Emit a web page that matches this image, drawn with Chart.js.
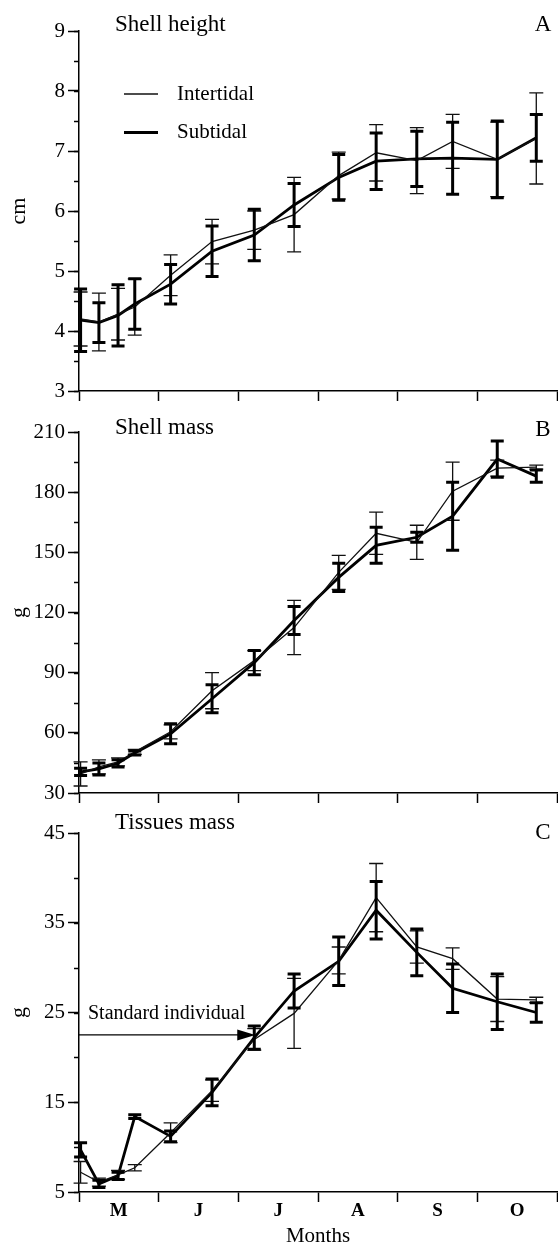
<!DOCTYPE html>
<html>
<head>
<meta charset="utf-8">
<title>Shell height, shell mass and tissues mass</title>
<script src="https://cdn.jsdelivr.net/npm/chart.js@4.4.1/dist/chart.umd.min.js"></script>
<style>
  html, body { margin: 0; padding: 0; background: #fff; }
  #wrap { position: relative; width: 558px; height: 1249px; overflow: hidden; }
  #wrap canvas { position: absolute; left: 0; }
</style>
</head>
<body>
<div id="wrap">
  <canvas id="chartA" width="558" height="412" style="top:0px"></canvas>
  <canvas id="chartB" width="558" height="402" style="top:412px"></canvas>
  <canvas id="chartC" width="558" height="435" style="top:814px"></canvas>
</div>
<script>
// sampling dates, counted in months from the start of May
const sampleMonths = [0.02, 0.25, 0.49, 0.70, 1.15, 1.67, 2.20, 2.70, 3.26, 3.73, 4.24, 4.69, 5.25, 5.74];
const monthLabels = ["M", "J", "J", "A", "S", "O"];
const seriesNames = ["Intertidal", "Subtidal"];

// A - shell height (cm), mean and SD
const heightInter   = [4.20, 4.15, 4.28, 4.40, 4.93, 5.49, 5.68, 5.94, 6.59, 6.97, 6.84, 7.16, 6.86, 7.21];
const heightInterSd = [0.45, 0.48, 0.43, 0.47, 0.34, 0.37, 0.32, 0.62, 0.39, 0.47, 0.55, 0.45, 0.62, 0.76];
const heightSub     = [4.18, 4.14, 4.26, 4.45, 4.78, 5.33, 5.60, 6.10, 6.56, 6.83, 6.87, 6.88, 6.86, 7.22];
const heightSubSd   = [0.52, 0.33, 0.51, 0.42, 0.33, 0.42, 0.43, 0.36, 0.38, 0.47, 0.46, 0.60, 0.64, 0.39];

// B - shell mass (g)
const shellInter   = [39.5, 43, 45.5, 50.5, 60.5, 81, 96, 112.5, 140, 159.5, 155, 180.5, 192, 192.5];
const shellInterSd = [6, 3.5, 2, 1.2, 3.5, 9, 5, 13.5, 8.5, 10.5, 8.5, 14.5, 4, 1];
const shellSub     = [40.5, 42, 44.8, 50, 59.5, 77, 95, 116, 137.5, 153.5, 157.5, 168, 196.5, 188];
const shellSubSd   = [1.8, 3, 1.8, 1, 5, 7, 6, 7, 7, 9, 2.5, 17, 9, 3];

// C - tissues mass (g)
const tissueInter   = [7.2, 6.1, 6.9, 7.7, 11.6, 16.3, 22.0, 24.9, 30.8, 37.8, 32.3, 31.0, 26.5, 26.4];
const tissueInterSd = [1.2, 0.45, 0.5, 0.35, 1.1, 1.2, 1.2, 3.9, 1.5, 3.8, 1.8, 1.2, 2.5, 0.3];
const tissueSub     = [9.7, 5.9, 6.8, 13.4, 11.2, 16.1, 22.2, 27.4, 30.7, 36.4, 31.7, 27.7, 26.2, 25.0];
const tissueSubSd   = [0.8, 0.4, 0.4, 0.2, 0.6, 1.5, 1.3, 1.9, 2.7, 3.2, 2.6, 2.7, 3.1, 1.1];

// tissues mass of the standard individual (g), and the sample it points at
const standardMass = 22.5;
const standardSample = 6;

const SERIF = '"Liberation Serif", "Times New Roman", serif';
Chart.defaults.font.family = SERIF;
Chart.defaults.color = "#000";

function toPoints(values) {
  return values.map((v, i) => ({ x: sampleMonths[i], y: v }));
}

// vertical SD bars with caps, drawn from the chart scales
const errorBars = {
  id: "errorBars",
  afterDatasetsDraw(chart) {
    const { ctx } = chart;
    const xs = chart.scales.x, ys = chart.scales.y;
    chart.data.datasets.forEach(ds => {
      if (!ds.sd) return;
      ctx.save();
      ctx.strokeStyle = ds.borderColor;
      ctx.lineWidth = ds.barWidth;
      ctx.lineCap = "butt";
      ds.data.forEach((pt, i) => {
        const x = xs.getPixelForValue(pt.x);
        const hi = ys.getPixelForValue(pt.y + ds.sd[i]);
        const lo = ys.getPixelForValue(pt.y - ds.sd[i]);
        ctx.beginPath();
        ctx.moveTo(x, hi); ctx.lineTo(x, lo);
        ctx.moveTo(x - ds.capHalf, hi); ctx.lineTo(x + ds.capHalf, hi);
        ctx.moveTo(x - ds.capHalf, lo); ctx.lineTo(x + ds.capHalf, lo);
        ctx.stroke();
      });
      ctx.restore();
    });
  }
};

// panel title, panel letter, minor y ticks, legend and the arrow
const panelDeco = {
  id: "panelDeco",
  afterDraw(chart, args, o) {
    const { ctx, chartArea } = chart;
    const ys = chart.scales.y, xs = chart.scales.x;
    ctx.save();
    ctx.fillStyle = "#000";
    ctx.strokeStyle = "#000";

    // minor ticks
    ctx.lineWidth = 1.5;
    for (let v = ys.min; v <= ys.max + 1e-9; v += o.minorStep) {
      const y = Math.round(ys.getPixelForValue(v)) + 0.5;
      ctx.beginPath();
      ctx.moveTo(chartArea.left - 5, y);
      ctx.lineTo(chartArea.left, y);
      ctx.stroke();
    }

    ctx.textBaseline = "middle";
    ctx.font = "23px " + SERIF;
    ctx.textAlign = "left";
    ctx.fillText(o.title, 115, o.titleY);
    ctx.textAlign = "center";
    ctx.fillText(o.letter, 543, o.letterY);

    if (o.legend) {
      ctx.textAlign = "left";
      ctx.font = "21px " + SERIF;
      chart.data.datasets.forEach((ds, i) => {
        const y = 94 + i * 38.5;
        ctx.lineWidth = ds.borderWidth + 0.4;
        ctx.strokeStyle = ds.borderColor;
        ctx.beginPath();
        ctx.moveTo(124, y);
        ctx.lineTo(158, y);
        ctx.stroke();
        ctx.fillText(ds.label, 177, y);
      });
    }

    if (o.arrow) {
      const y = ys.getPixelForValue(standardMass);
      const tip = xs.getPixelForValue(sampleMonths[standardSample]) + 1;
      ctx.lineWidth = 1.3;
      ctx.beginPath();
      ctx.moveTo(chartArea.left, y);
      ctx.lineTo(tip - 16, y);
      ctx.stroke();
      ctx.beginPath();
      ctx.moveTo(tip, y);
      ctx.lineTo(tip - 18, y - 5.5);
      ctx.lineTo(tip - 18, y + 5.5);
      ctx.closePath();
      ctx.fill();
      ctx.textAlign = "left";
      ctx.font = "20px " + SERIF;
      ctx.fillText("Standard individual", 88, y - 21);
    }
    ctx.restore();
  }
};

function makePanel(id, cfg) {
  const datasets = [
    { label: seriesNames[0], data: toPoints(cfg.inter), sd: cfg.interSd,
      borderColor: "#111", borderWidth: 1.3, barWidth: 1.3, capHalf: 7 },
    { label: seriesNames[1], data: toPoints(cfg.sub), sd: cfg.subSd,
      borderColor: "#000", borderWidth: 2.8, barWidth: 3, capHalf: 6.5 }
  ];
  datasets.forEach(ds => { ds.pointRadius = 0; ds.tension = 0; ds.fill = false; });

  const xAxis = {
    type: "linear", min: 0, max: 6,
    ticks: { display: false, stepSize: 1 },
    grid: { drawOnChartArea: false, drawTicks: true, tickLength: 10, color: "#000", tickWidth: 1.5 },
    border: { display: true, color: "#000", width: 1.5 },
    afterFit(scale) { scale.height = cfg.xHeight; }
  };
  if (cfg.months) {
    xAxis.afterBuildTicks = scale => {
      scale.ticks = [];
      for (let k = 0; k <= 12; k++) scale.ticks.push({ value: k / 2 });
    };
    xAxis.ticks = {
      display: true, autoSkip: false, maxRotation: 0, padding: -2,
      font: { size: 19, weight: "bold" },
      callback: v => (v % 1 ? monthLabels[Math.floor(v)] : "")
    };
    xAxis.grid.tickColor = c => (c.tick && c.tick.value % 1 ? "rgba(0,0,0,0)" : "#000");
    xAxis.title = { display: true, text: "Months", font: { size: 21 }, padding: { top: 0, bottom: 0 } };
  }

  return new Chart(document.getElementById(id), {
    type: "line",
    data: { datasets },
    options: {
      responsive: false,
      animation: false,
      layout: { padding: { top: cfg.padTop, right: 1, left: 0, bottom: 0 } },
      plugins: {
        legend: { display: false },
        tooltip: { enabled: false },
        panelDeco: {
          title: cfg.title, titleY: cfg.titleY, letter: cfg.letter, letterY: cfg.letterY,
          minorStep: cfg.minorStep, legend: !!cfg.legend, arrow: !!cfg.arrow
        }
      },
      scales: {
        x: xAxis,
        y: {
          min: cfg.yMin, max: cfg.yMax,
          ticks: { stepSize: cfg.step, padding: 3, font: { size: 21 } },
          grid: { drawOnChartArea: false, drawTicks: true, tickLength: 11, color: "#000", tickWidth: 1.5 },
          border: { display: true, color: "#000", width: 1.5 },
          title: { display: true, text: cfg.unit, font: { size: 22 }, padding: { top: 6, bottom: 0 } },
          afterFit(scale) { scale.width = 79; }
        }
      }
    },
    plugins: [errorBars, panelDeco]
  });
}

makePanel("chartA", {
  inter: heightInter, interSd: heightInterSd, sub: heightSub, subSd: heightSubSd,
  yMin: 3, yMax: 9, step: 1, minorStep: 0.5, unit: "cm",
  title: "Shell height", titleY: 25, letter: "A", letterY: 25,
  padTop: 31, xHeight: 21, legend: true
});

makePanel("chartB", {
  inter: shellInter, interSd: shellInterSd, sub: shellSub, subSd: shellSubSd,
  yMin: 30, yMax: 210, step: 30, minorStep: 15, unit: "g",
  title: "Shell mass", titleY: 16, letter: "B", letterY: 18,
  padTop: 20, xHeight: 21
});

makePanel("chartC", {
  inter: tissueInter, interSd: tissueInterSd, sub: tissueSub, subSd: tissueSubSd,
  yMin: 5, yMax: 45, step: 10, minorStep: 5, unit: "g",
  title: "Tissues mass", titleY: 9, letter: "C", letterY: 19,
  padTop: 19, xHeight: 57, months: true, arrow: true
});
</script>
</body>
</html>
